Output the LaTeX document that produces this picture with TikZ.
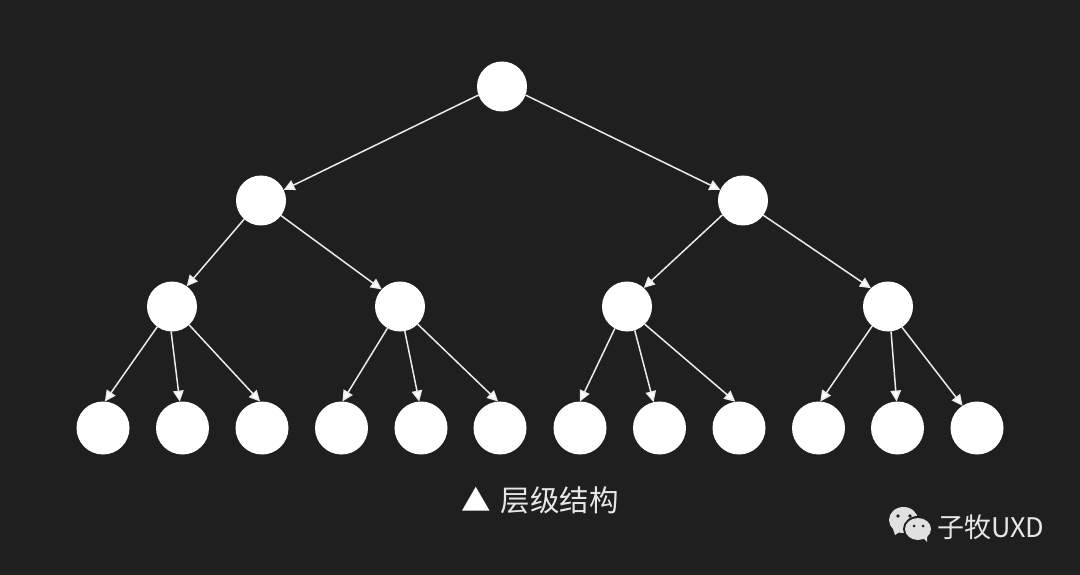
\documentclass[tikz,border=0pt]{standalone}
\usepackage{fontspec}
\newfontfamily\cjk{Noto Sans CJK SC}
\usetikzlibrary{arrows.meta}
\definecolor{bgc}{HTML}{1F1F1F}
\definecolor{txtc}{HTML}{E6E6E6}
\definecolor{iconc}{HTML}{E0E0E0}
\tikzset{
 big/.style={circle,fill=white,inner sep=0pt,outer sep=0pt,minimum size=50pt},
 leaf/.style={circle,fill=white,inner sep=0pt,outer sep=0pt,minimum size=53pt},
 edge/.style={draw=white!92!black,line width=1.5pt,-{Triangle[width=10.5pt,length=11pt,fill=white]}},
 lbl/.style={inner sep=0pt,outer sep=0pt,text=txtc,font=\cjk},
}
\begin{document}
\begin{tikzpicture}[x=1pt,y=-1pt]
\fill[bgc] (0,0) rectangle (1080,575);
\useasboundingbox (0,0) rectangle (1080,575);
\node[big] (r) at (502,86.5) {};
\node[big] (a) at (261,200.5) {};
\node[big] (b) at (743,200.5) {};
\node[big] (a1) at (172,306.5) {};
\node[big] (a2) at (400,306.5) {};
\node[big] (b1) at (627,306.5) {};
\node[big] (b2) at (888,306.5) {};
\foreach \n/\x in {l1/103,l2/182.5,l3/262,l4/341.5,l5/421,l6/500,l7/580,l8/659.5,l9/739,l10/818.5,l11/897.5,l12/977}
  \node[leaf] (\n) at (\x,428) {};
\draw[edge] (r.200) -- (a.25);
\draw[edge] (r.340) -- (b.155);
\draw[edge] (a.228) -- (a1.54);
\draw[edge] (a.323) -- (a2.137);
\draw[edge] (b.215) -- (b1.48);
\draw[edge] (b.324) -- (b2.133);
\draw[edge] (a1.234) -- (l1.86);
\draw[edge] (a1.268) -- (l2.96);
\draw[edge] (a1.313) -- (l3.94);
\draw[edge] (a2.240) -- (l4.88);
\draw[edge] (a2.281) -- (l5.94);
\draw[edge] (a2.315) -- (l6.94);
\draw[edge] (b1.241) -- (l7.90);
\draw[edge] (b1.288) -- (l8.103);
\draw[edge] (b1.315) -- (l9.98);
\draw[edge] (b2.231) -- (l10.86);
\draw[edge] (b2.277) -- (l11.92);
\draw[edge] (b2.304) -- (l12.123);
\node[lbl,anchor=west,font=\cjk\fontsize{29.5}{32}\selectfont] (cap) at (461,500) {{\color{white}▲}\hspace{10pt}层级结构};
% WeChat mark
\fill[iconc] (903.5,520) ellipse [x radius=14.5,y radius=13];
\fill[iconc] (893,529) -- (895,535) -- (901,531) -- cycle;
\fill[bgc] (918,529) ellipse [x radius=15,y radius=13];
\fill[iconc] (918,529) ellipse [x radius=13,y radius=11];
\fill[iconc] (922,537) -- (927,542) -- (927,535) -- cycle;
\fill[bgc] (898,516) circle (1.8) (910,516) circle (1.8) (914,526) circle (1.5) (923,526) circle (1.5);
\node[lbl,anchor=west,font=\cjk\fontsize{27}{30}\selectfont] (wm) at (937,527) {子牧UXD};
\end{tikzpicture}
\end{document}
